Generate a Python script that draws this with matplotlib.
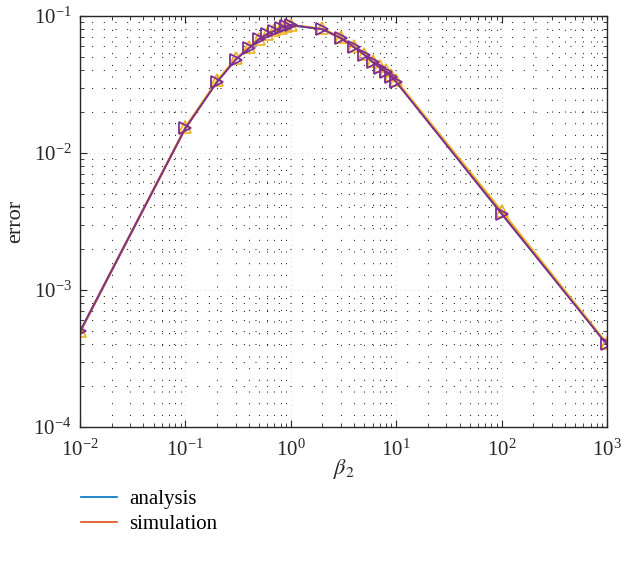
import matplotlib
matplotlib.use("Agg")
import matplotlib.pyplot as plt
import numpy as np
from matplotlib.ticker import LogLocator, NullFormatter

# beta_2 values and error
beta2 = [0.01, 0.1, 0.2, 0.3, 0.4, 0.5, 0.6, 0.7, 0.8, 0.9, 1,
         2, 3, 4, 5, 6, 7, 8, 9, 10, 100, 1000]
err_analysis = [4.9e-4, 0.0152, 0.033, 0.048, 0.058, 0.067, 0.073, 0.078, 0.082, 0.084, 0.085,
                0.080, 0.069, 0.059, 0.052, 0.046, 0.042, 0.039, 0.036, 0.033, 0.0036, 4.0e-4]
err_simulation = [4.9e-4, 0.0150, 0.033, 0.048, 0.058, 0.068, 0.074, 0.078, 0.081, 0.084, 0.086,
                  0.080, 0.068, 0.059, 0.052, 0.046, 0.042, 0.039, 0.036, 0.033, 0.0037, 4.0e-4]
err_sim_a = [5.0e-4, 0.0155, 0.034, 0.049, 0.059, 0.068, 0.074, 0.079, 0.082, 0.085, 0.086,
             0.081, 0.070, 0.060, 0.053, 0.047, 0.043, 0.040, 0.037, 0.034, 0.0038, 4.1e-4]
err_sim_b = [5.0e-4, 0.0152, 0.033, 0.048, 0.058, 0.068, 0.074, 0.078, 0.082, 0.084, 0.086,
             0.080, 0.069, 0.059, 0.052, 0.046, 0.042, 0.039, 0.036, 0.033, 0.0036, 4.0e-4]

c_blue = (0, 0.447, 0.741)
c_orange = (0.85, 0.325, 0.098)
c_yellow = (0.929, 0.694, 0.125)
c_purple = (0.494, 0.184, 0.556)

plt.rcParams['font.family'] = ['Liberation Serif', 'DejaVu Serif']
plt.rcParams['mathtext.fontset'] = 'stix'

fig = plt.figure(figsize=(6.25, 5.69), dpi=100)
ax = fig.add_axes([0.128, 0.2496, 0.843, 0.7224])

l1, = ax.loglog(beta2, err_analysis, color=c_blue, lw=1.2, label='analysis')
l2, = ax.loglog(beta2, err_simulation, color=c_orange, lw=1.2, label='simulation')
ax.loglog(beta2, err_sim_a, color=c_yellow, lw=1.2, marker='^', ms=8,
          mfc='none', mew=1.2)
ax.loglog(beta2, err_sim_b, color=c_purple, lw=1.3, marker='>', ms=8,
          mfc='none', mew=1.3)

ax.set_xlim(1e-2, 1e3)
ax.set_ylim(1e-4, 1e-1)
ax.xaxis.set_major_locator(LogLocator(base=10, numticks=10))
ax.yaxis.set_major_locator(LogLocator(base=10, numticks=10))
ax.xaxis.set_minor_locator(LogLocator(base=10, subs=np.arange(2, 10), numticks=20))
ax.yaxis.set_minor_locator(LogLocator(base=10, subs=np.arange(2, 10), numticks=20))
ax.xaxis.set_minor_formatter(NullFormatter())
ax.yaxis.set_minor_formatter(NullFormatter())

ax.grid(True, which='major', color='#dddddd', linestyle=(0, (1, 3)), lw=0.8)
ax.grid(True, which='minor', color='black', linestyle=(0, (1, 11)), lw=0.7)

ax.tick_params(which='both', direction='in', top=True, right=True,
               labelsize=15, colors='#262626')
ax.tick_params(which='major', length=5)
ax.tick_params(which='minor', length=3)
ax.tick_params(axis='x', which='major', pad=9)
ax.tick_params(axis='y', which='major', pad=6)
for s in ax.spines.values():
    s.set_color('#262626')
    s.set_linewidth(1.0)

ax.set_xlabel(r'$\beta_2$', fontsize=16, color='#262626', labelpad=-3)
ax.set_ylabel('error', fontsize=16, color='#262626', labelpad=6)

fig.legend(handles=[l1, l2], loc='upper left', bbox_to_anchor=(0.1, 0.172),
           frameon=False, fontsize=15, handlelength=1.7, handletextpad=0.6,
           labelspacing=0.25)

fig.savefig('out.png', dpi=100)
